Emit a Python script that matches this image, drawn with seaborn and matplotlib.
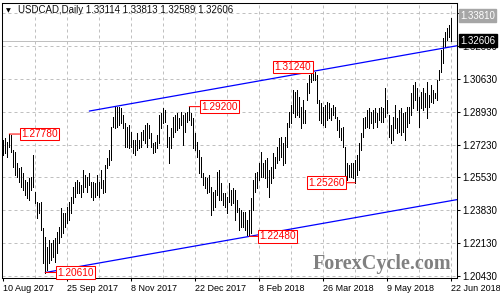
import numpy as np
import pandas as pd
import matplotlib
matplotlib.use("Agg")
import matplotlib.pyplot as plt
import seaborn as sns

# ---------------- data ----------------
title_symbol = "USDCAD,Daily"
title_quote = ["1.33114", "1.33813", "1.32589", "1.32606"]

highs = [
    1.2747, 1.2756, 1.2738, 1.2778, 1.2773, 1.2695, 1.2687, 1.2626, 1.2600, 1.2609, 1.2574, 1.2540, 1.2531, 1.2549, 1.2557,
    1.2669, 1.2480, 1.2428, 1.2419, 1.2428, 1.2290, 1.2247, 1.2195, 1.2229, 1.2212, 1.2229, 1.2238, 1.2272, 1.2298, 1.2393,
    1.2367, 1.2367, 1.2402, 1.2428, 1.2454, 1.2505, 1.2531, 1.2540, 1.2531, 1.2514, 1.2592, 1.2566, 1.2557, 1.2574, 1.2531,
    1.2531, 1.2523, 1.2566, 1.2531, 1.2592, 1.2540, 1.2618, 1.2652, 1.2695, 1.2816, 1.2868, 1.2920, 1.2920, 1.2920, 1.2911,
    1.2876, 1.2833, 1.2816, 1.2825, 1.2790, 1.2747, 1.2747, 1.2782, 1.2747, 1.2790, 1.2799, 1.2825, 1.2833, 1.2825, 1.2782,
    1.2730, 1.2738, 1.2773, 1.2876, 1.2885, 1.2911, 1.2902, 1.2825, 1.2764, 1.2807, 1.2868, 1.2876, 1.2885, 1.2859, 1.2894,
    1.2876, 1.2885, 1.2894, 1.2920, 1.2885, 1.2859, 1.2782, 1.2738, 1.2695, 1.2661, 1.2574, 1.2557, 1.2549, 1.2566, 1.2505,
    1.2480, 1.2488, 1.2583, 1.2592, 1.2523, 1.2471, 1.2471, 1.2454, 1.2523, 1.2488, 1.2497, 1.2488, 1.2436, 1.2393, 1.2385,
    1.2376, 1.2376, 1.2333, 1.2385, 1.2445, 1.2540, 1.2574, 1.2583, 1.2626, 1.2687, 1.2626, 1.2644, 1.2652, 1.2592, 1.2609,
    1.2678, 1.2661, 1.2713, 1.2756, 1.2764, 1.2730, 1.2764, 1.2833, 1.2894, 1.2928, 1.3006, 1.2997, 1.3006, 1.2972, 1.2920,
    1.2954, 1.2902, 1.3041, 1.3084, 1.3101, 1.3124, 1.3101, 1.3084, 1.2954, 1.2937, 1.2920, 1.2928, 1.2946, 1.2937, 1.2911,
    1.2928, 1.2920, 1.2868, 1.2851, 1.2807, 1.2816, 1.2713, 1.2626, 1.2618, 1.2626, 1.2626, 1.2644, 1.2669, 1.2730, 1.2782,
    1.2859, 1.2868, 1.2902, 1.2911, 1.2894, 1.2902, 1.2911, 1.2885, 1.2911, 1.2920, 1.2911, 1.3015, 1.2954, 1.2876, 1.2825,
    1.2868, 1.2928, 1.2859, 1.2902, 1.2911, 1.2885, 1.2894, 1.2920, 1.2920, 1.2989, 1.3032, 1.3049, 1.3015, 1.2972, 1.2997,
    1.3015, 1.2989, 1.3049, 1.2980, 1.3032, 1.3006, 1.2989, 1.3058, 1.3110, 1.3213, 1.3274, 1.3308, 1.3325, 1.3343, 1.3381,
]

lows = [
    1.2669, 1.2678, 1.2661, 1.2713, 1.2687, 1.2609, 1.2566, 1.2557, 1.2531, 1.2505, 1.2488, 1.2462, 1.2445, 1.2436, 1.2488,
    1.2505, 1.2419, 1.2341, 1.2367, 1.2281, 1.2109, 1.2061, 1.2075, 1.2109, 1.2126, 1.2143, 1.2117, 1.2160, 1.2212, 1.2247,
    1.2264, 1.2298, 1.2316, 1.2333, 1.2367, 1.2419, 1.2454, 1.2471, 1.2471, 1.2454, 1.2480, 1.2505, 1.2480, 1.2514, 1.2454,
    1.2436, 1.2454, 1.2462, 1.2454, 1.2497, 1.2471, 1.2480, 1.2600, 1.2618, 1.2644, 1.2816, 1.2807, 1.2816, 1.2825, 1.2833,
    1.2807, 1.2713, 1.2713, 1.2704, 1.2713, 1.2678, 1.2669, 1.2695, 1.2704, 1.2713, 1.2747, 1.2730, 1.2713, 1.2756, 1.2713,
    1.2678, 1.2687, 1.2704, 1.2730, 1.2807, 1.2833, 1.2842, 1.2713, 1.2626, 1.2704, 1.2764, 1.2790, 1.2799, 1.2807, 1.2825,
    1.2721, 1.2790, 1.2842, 1.2851, 1.2825, 1.2704, 1.2695, 1.2661, 1.2574, 1.2557, 1.2514, 1.2497, 1.2471, 1.2480, 1.2359,
    1.2385, 1.2402, 1.2462, 1.2436, 1.2436, 1.2411, 1.2402, 1.2367, 1.2428, 1.2411, 1.2419, 1.2333, 1.2376, 1.2281, 1.2298,
    1.2298, 1.2281, 1.2255, 1.2248, 1.2264, 1.2385, 1.2480, 1.2497, 1.2540, 1.2557, 1.2557, 1.2549, 1.2505, 1.2454, 1.2523,
    1.2549, 1.2600, 1.2626, 1.2644, 1.2661, 1.2618, 1.2626, 1.2713, 1.2816, 1.2833, 1.2885, 1.2868, 1.2876, 1.2868, 1.2807,
    1.2833, 1.2833, 1.2954, 1.2989, 1.3049, 1.3058, 1.3058, 1.2937, 1.2851, 1.2833, 1.2825, 1.2816, 1.2851, 1.2859, 1.2851,
    1.2876, 1.2859, 1.2799, 1.2764, 1.2747, 1.2713, 1.2557, 1.2540, 1.2557, 1.2557, 1.2549, 1.2526, 1.2566, 1.2592, 1.2695,
    1.2764, 1.2807, 1.2816, 1.2807, 1.2833, 1.2807, 1.2842, 1.2816, 1.2851, 1.2842, 1.2842, 1.2868, 1.2885, 1.2764, 1.2730,
    1.2747, 1.2807, 1.2782, 1.2790, 1.2773, 1.2790, 1.2747, 1.2816, 1.2833, 1.2876, 1.2911, 1.2954, 1.2902, 1.2816, 1.2911,
    1.2902, 1.2920, 1.2859, 1.2920, 1.2946, 1.2937, 1.2963, 1.2954, 1.3058, 1.3101, 1.3144, 1.3230, 1.3265, 1.3282, 1.3259,
]

date_labels = ["10 Aug 2017", "25 Sep 2017", "8 Nov 2017", "22 Dec 2017",
               "8 Feb 2018", "26 Mar 2018", "9 May 2018", "22 Jun 2018"]
date_label_bars = [0, 32, 64, 96, 128, 160, 192, 224]

price_ticks = [1.20430, 1.22130, 1.23830, 1.25530, 1.27230, 1.28930, 1.30630, 1.32330, 1.34030]
hidden_tick_labels = [1.34030]   # covered by the high marker box in the reference

swing_bars = [3, 21, 93, 123, 155, 176]
swing_prices = [1.2778, 1.2061, 1.2920, 1.2248, 1.3124, 1.2526]
swing_texts = ["1.27780", "1.20610", "1.29200", "1.22480", "1.31240", "1.25260"]

upper_channel_bars = [43, 155]
upper_channel_prices = [1.2897, 1.3103]
lower_channel_bars = [21, 123]
lower_channel_prices = [1.2061, 1.2248]

last_price = 1.32606
period_high = 1.33810

# ---------------- style ----------------
sns.set_style("white")
plt.rcParams['font.family'] = ['Liberation Sans', 'DejaVu Sans']

W, H = 500, 300
fig = plt.figure(figsize=(5, 3), dpi=100)
ax_left, ax_right, ax_top, ax_bottom = 2, 457, 2.5, 277.5
ax = fig.add_axes([ax_left / W, (H - ax_bottom) / H, (ax_right - ax_left) / W, (ax_bottom - ax_top) / H])

x_min, x_max = -0.65, 226.85
ax.set_xlim(x_min, x_max)
ax.set_ylim(1.20352, 1.34591)

# grid
grid_kw = dict(color='#C0C0C0', lw=0.72, ls=(0, (3, 3)), zorder=0)
for b in range(16, 227, 16):
    ax.axvline(b, **grid_kw)
for p in price_ticks:
    ax.axhline(p, **grid_kw)

# last price line
ax.axhline(last_price, color='#C0C0C0', lw=0.72, zorder=1)

# bars (high-low)
bar_idx = np.arange(len(highs))
df = pd.DataFrame({
    "bar": np.concatenate([bar_idx, bar_idx]),
    "price": np.concatenate([np.array(lows), np.array(highs)]),
})
sns.lineplot(data=df, x="bar", y="price", units="bar", estimator=None, sort=True,
             color="black", lw=0.68, antialiased=False, ax=ax, legend=False, zorder=3)

# channel lines
def channel(bars, prices):
    slope = (prices[1] - prices[0]) / (bars[1] - bars[0])
    xs = np.array([bars[0], x_max])
    ys = prices[0] + slope * (xs - bars[0])
    return xs, ys

for bars_, prices_ in [(upper_channel_bars, upper_channel_prices), (lower_channel_bars, lower_channel_prices)]:
    xs, ys = channel(bars_, prices_)
    sns.lineplot(x=xs, y=ys, color='#0000FF', lw=0.9, ax=ax, legend=False, zorder=4)

# swing labels
offsets = [12, 12, 12, 10, -2, -11]
for b, p, t, off in zip(swing_bars, swing_prices, swing_texts, offsets):
    ax.annotate(t, xy=(b, p), xytext=(off, 0), textcoords='offset pixels',
                ha='left' if off > 0 else 'right', va='center', color='#FF0000', fontsize=7.3,
                bbox=dict(boxstyle='square,pad=0.12', fc='white', ec='#FF0000', lw=0.75),
                arrowprops=dict(arrowstyle='-', color='#FF0000', lw=0.75, shrinkA=0, shrinkB=0),
                zorder=6)

# axes styling
for s in ax.spines.values():
    s.set_color('black')
    s.set_linewidth(0.75)
    s.set_visible(True)

ax.yaxis.tick_right()
ax.set_yticks(price_ticks)
ax.set_yticklabels(["" if p in hidden_tick_labels else f"{p:.5f}" for p in price_ticks], fontsize=7)
ax.set_xticks(date_label_bars)
ax.set_xticklabels(date_labels, fontsize=6.5, ha='left')
ax.tick_params(axis='y', direction='out', length=2.2, width=0.75, pad=1.6, colors='black', right=True, left=False)
ax.tick_params(axis='x', direction='out', length=2.2, width=0.75, pad=2.5, colors='black', bottom=True)
ax.set_xlabel("")
ax.set_ylabel("")

# right-side price boxes
ax.annotate(f"{period_high:.5f}", xy=(1, period_high), xycoords=('axes fraction', 'data'),
            xytext=(3, 2), textcoords='offset pixels', ha='left', va='center', color='white',
            fontsize=7, bbox=dict(boxstyle='square,pad=0.15', fc='#A6A6A6', ec='#A6A6A6'),
            annotation_clip=False, zorder=10)
ax.annotate(f"{last_price:.5f}", xy=(1, last_price), xycoords=('axes fraction', 'data'),
            xytext=(3, 0), textcoords='offset pixels', ha='left', va='center', color='white',
            fontsize=7, bbox=dict(boxstyle='square,pad=0.15', fc='black', ec='black'),
            annotation_clip=False, zorder=10)

# title
fig.text(6 / W, 1 - 12.5 / H, "\u25BC", fontsize=4.5, color='black', family='DejaVu Sans', va='baseline')
fig.text(18 / W, 1 - 13.3 / H, title_symbol + " " + " ".join(title_quote), fontsize=7,
         color='#101010', va='baseline')

# watermark
fig.text(313 / W, (H - 269.3) / H, "ForexCycle.com", fontsize=14.5, fontweight='bold',
         family='Liberation Serif', color='#808080', va='baseline', ha='left', zorder=2)

fig.savefig("out.png", dpi=100)
